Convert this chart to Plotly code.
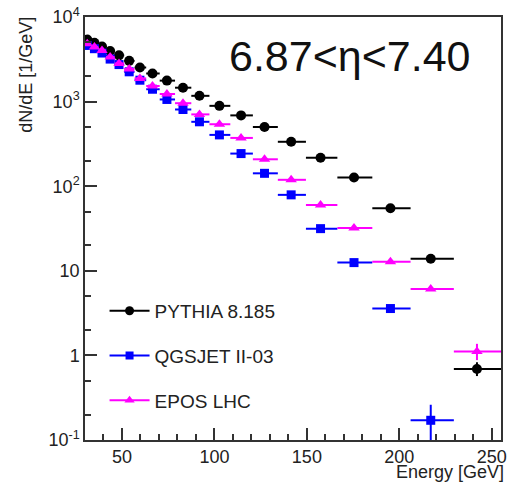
import plotly.graph_objects as go

# ---- data ----
energy = [31.2, 35.1, 39.2, 43.6, 48.4, 53.9, 59.7, 66.5, 74.3, 83.0,
          91.9, 102.7, 114.4, 127.1, 141.5, 157.4, 175.5, 195.2, 217.0, 242.0]
bin_lo = [29.3, 33.2, 37.2, 41.4, 46.0, 51.2, 56.8, 63.1, 70.4, 78.7,
          87.5, 97.3, 108.6, 120.8, 134.3, 149.5, 166.5, 185.4, 206.1, 229.5]
bin_hi = [33.2, 37.2, 41.4, 46.0, 51.2, 56.8, 63.1, 70.4, 78.7, 87.5,
          97.3, 108.6, 120.8, 134.3, 149.5, 166.5, 185.4, 206.1, 229.5, 255.0]

pythia = [5420, 4960, 4490, 3970, 3520, 3030, 2530, 2150, 1770, 1460,
          1170, 891, 687, 501, 335, 217, 127, 55, 13.9, 0.69]
pythia_eup = [0]*19 + [0.14]
pythia_edn = [0]*19 + [0.12]

qgsjet = [4610, 4220, 3750, 3180, 2740, 2250, 1790, 1400, 1060, 807,
          577, 404, 243, 142, 79, 31.5, 12.5, 3.58, 0.171]
qgsjet_eup = [0]*18 + [0.09]
qgsjet_edn = [0]*18 + [0.12]

epos = [4830, 4420, 4030, 3370, 2820, 2430, 1880, 1530, 1230, 957,
        706, 540, 372, 208, 119, 60, 32, 12.8, 6.1, 1.11]
epos_eup = [0]*19 + [0.26]
epos_edn = [0]*19 + [0.23]

series = [
    ("PYTHIA 8.185", pythia, pythia_eup, pythia_edn, "#000000", "circle", 10),
    ("QGSJET II-03", qgsjet, qgsjet_eup, qgsjet_edn, "#0000FF", "square", 9),
    ("EPOS LHC", epos, epos_eup, epos_edn, "#FF00FF", "triangle-up", 10),
]

y_tickvals = [0.1, 1, 10, 100, 1000, 10000]
y_ticktext = ["10<sup>-1</sup>", "1", "10", "10<sup>2</sup>", "10<sup>3</sup>", "10<sup>4</sup>"]
x_tickvals = [50, 100, 150, 200, 250]

FONT = "Liberation Sans, Arial, sans-serif"

fig = go.Figure()
for i, (name, vals, eup, edn, col, sym, sz) in enumerate(series):
    n = len(vals)
    x = energy[:n]
    fig.add_trace(go.Scatter(
        x=x, y=vals, mode="markers", showlegend=False,
        marker=dict(color=col, symbol=sym, size=sz),
        error_x=dict(type="data", symmetric=False,
                     array=[bin_hi[k] - energy[k] for k in range(n)],
                     arrayminus=[energy[k] - bin_lo[k] for k in range(n)],
                     color=col, thickness=2, width=0),
        error_y=dict(type="data", symmetric=False, array=eup, arrayminus=edn,
                     color=col, thickness=2, width=0),
    ))
    # legend entry (line + marker, like the ROOT legend)
    fig.add_trace(go.Scatter(
        x=[None], y=[None], mode="lines+markers", name=name,
        legendgroup=name,
        line=dict(color=col, width=2),
        marker=dict(color=col, symbol=sym, size=sz - 1),
    ))

fig.update_layout(
    width=512, height=486,
    margin=dict(l=85, r=5, t=13, b=46),
    paper_bgcolor="white", plot_bgcolor="white",
    font=dict(family=FONT, color="#222222", size=18),
    showlegend=True,
    legend=dict(x=0.047, y=0.35, xanchor="left", yanchor="top",
                bgcolor="rgba(0,0,0,0)", font=dict(size=19, color="#222222"),
                traceorder="grouped", tracegroupgap=17, itemwidth=40),
    xaxis=dict(range=[30, 255], showline=True, mirror=True, linecolor="#333333",
               linewidth=1.5, showgrid=False, zeroline=False,
               ticks="inside", ticklen=12, tickwidth=1.5, tickcolor="#333333",
               tickvals=x_tickvals, tickfont=dict(size=18),
               minor=dict(ticks="inside", ticklen=6, tickwidth=1.5,
                          tickcolor="#333333", dtick=10, tick0=0, showgrid=False)),
    yaxis=dict(type="log", range=[-1, 4], showline=True, mirror=True,
               linecolor="#333333", linewidth=1.5, showgrid=False, zeroline=False,
               ticks="inside", ticklen=12, tickwidth=1.5, tickcolor="#333333",
               tickvals=y_tickvals, ticktext=y_ticktext, tickfont=dict(size=18),
               minor=dict(ticks="inside", ticklen=6, tickwidth=1.5,
                          tickcolor="#333333", showgrid=False)),
)

fig.add_annotation(text="6.87<η<7.40", xref="paper", yref="paper",
                   x=0.637, y=0.907, xanchor="center", yanchor="middle",
                   showarrow=False, font=dict(family=FONT, size=43, color="#111111"))
fig.add_annotation(text="Energy [GeV]", xref="paper", yref="paper",
                   x=1.012, y=-0.103, xanchor="right", yanchor="bottom",
                   showarrow=False, font=dict(family=FONT, size=18, color="#222222"))
fig.add_annotation(text="dN/dE [1/GeV]", xref="paper", yref="paper",
                   x=-0.142, y=1.005, xanchor="center", yanchor="top", textangle=-90,
                   showarrow=False, font=dict(family=FONT, size=18, color="#222222"))

# remove the default 8px page margin so the figure sits at the window's corner
fig.write_html("out.html", config={"displayModeBar": False},
               post_script="document.body.style.margin='0';")
